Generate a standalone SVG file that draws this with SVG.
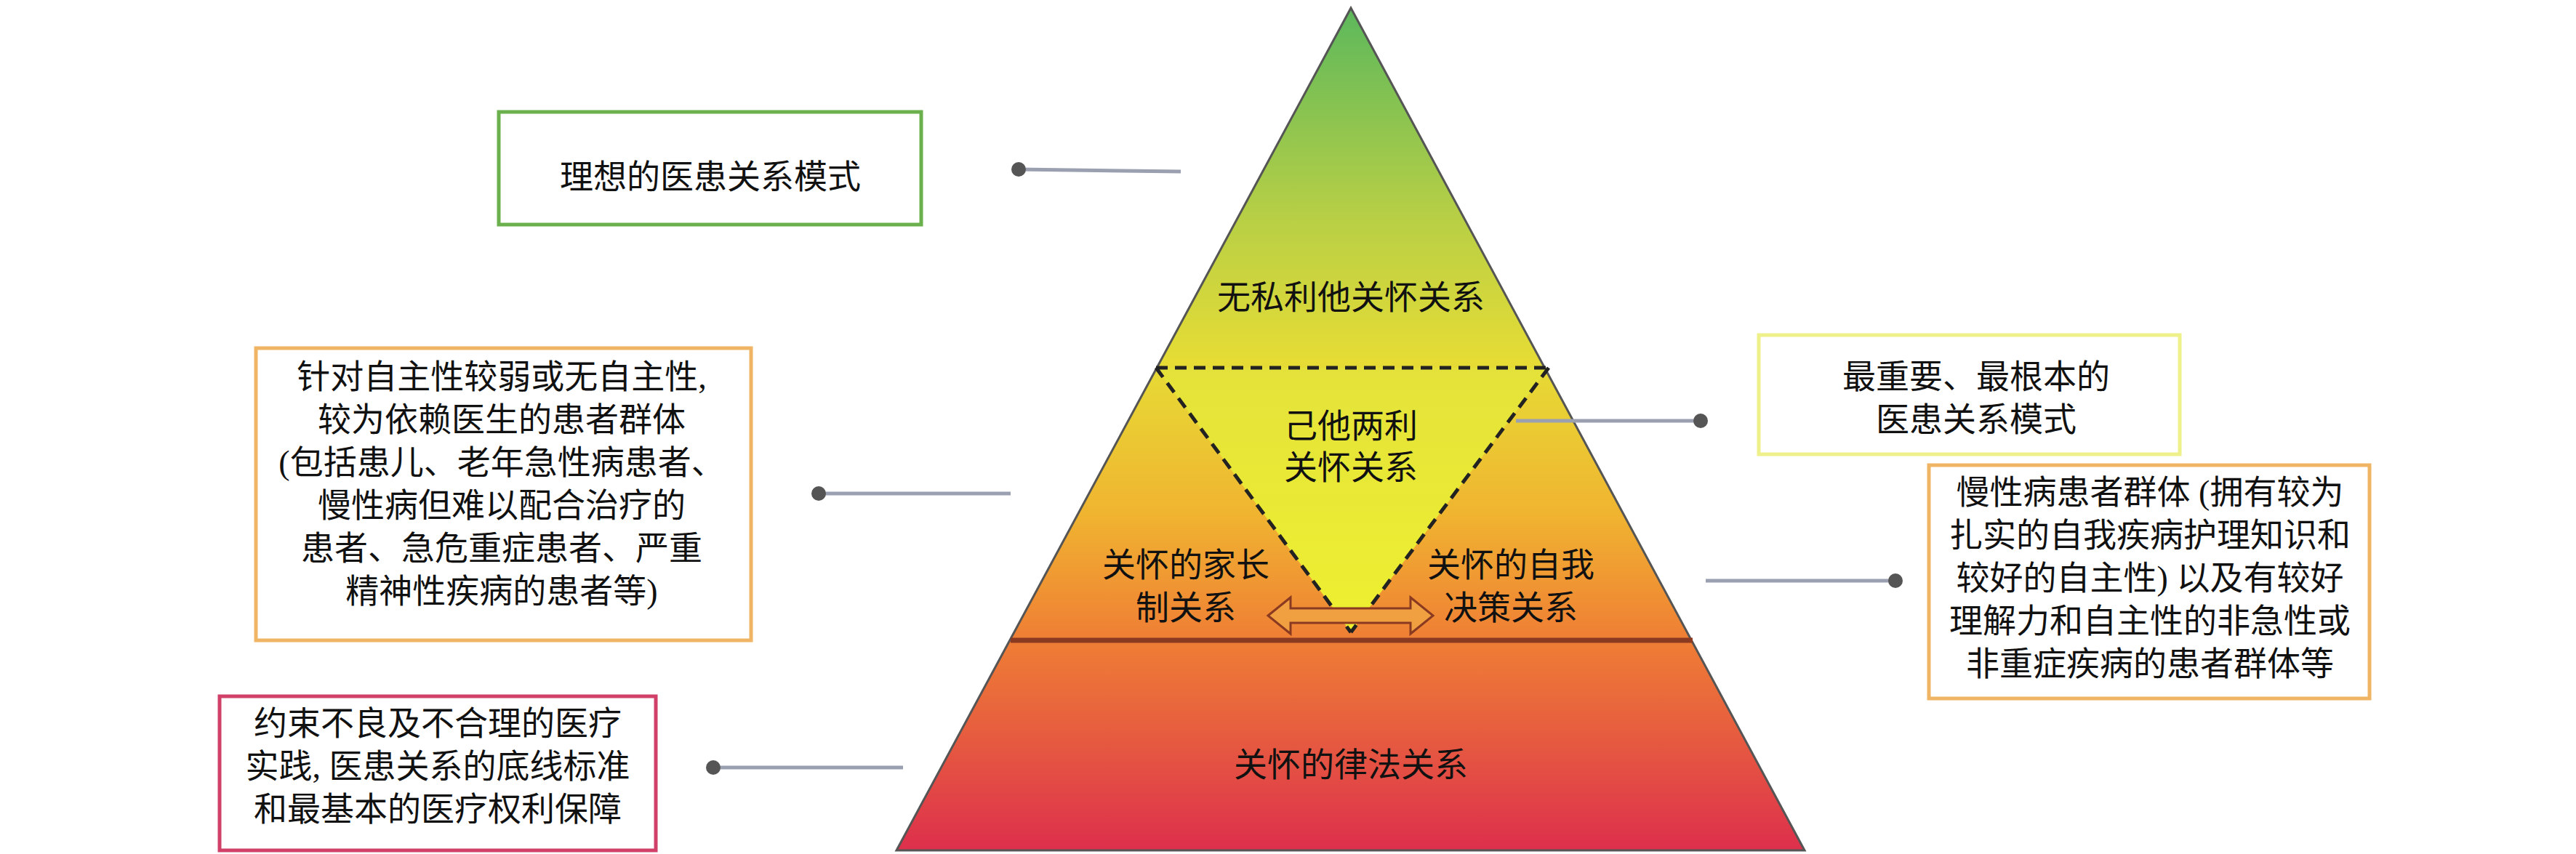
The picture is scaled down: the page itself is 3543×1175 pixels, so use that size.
<svg xmlns="http://www.w3.org/2000/svg" width="3543" height="1175" viewBox="0 0 3543 1175">
<style>
text{font-family:"Liberation Serif","Noto Sans CJK SC",serif;font-size:46px;fill:#111;text-anchor:middle;dominant-baseline:central}
.box{fill:#fff;stroke-width:5}
.ln{stroke:#9aa0b0;stroke-width:5;fill:none}
.dot{fill:#555}
.dash{stroke:#222;stroke-width:5;stroke-dasharray:16 10;fill:none}
</style>
<defs>
<linearGradient id="pg" gradientUnits="userSpaceOnUse" x1="0" y1="11" x2="0" y2="1170">
<stop offset="0" stop-color="#5cb85c"/>
<stop offset="0.25" stop-color="#b8cf45"/>
<stop offset="0.42" stop-color="#e6dc35"/>
<stop offset="0.6" stop-color="#f0b430"/>
<stop offset="0.75" stop-color="#ef7e35"/>
<stop offset="0.87" stop-color="#e65a40"/>
<stop offset="1" stop-color="#dd2f4c"/>
</linearGradient>
<linearGradient id="ig" gradientUnits="userSpaceOnUse" x1="0" y1="506" x2="0" y2="870">
<stop offset="0" stop-color="#e4e23a"/>
<stop offset="1" stop-color="#eef030"/>
</linearGradient>
</defs>
<g id="pyramid">
<polygon points="1858,11 2482,1170 1233,1170" fill="url(#pg)" stroke="#555" stroke-width="3"/>
<polygon points="1590,506 2130,506 1858,870" fill="url(#ig)"/>
<line x1="1590" y1="506" x2="2130" y2="506" class="dash"/>
<line x1="1590" y1="506" x2="1858" y2="870" class="dash"/>
<line x1="2130" y1="506" x2="1858" y2="870" class="dash"/>
<line x1="1390" y1="881" x2="2328" y2="881" stroke="#8a3a20" stroke-width="7"/>
<polygon points="1744,847 1775,822 1775,837 1940,837 1940,822 1971,847 1940,872 1940,857 1775,857 1775,872" fill="#f0a040" stroke="#8a3a20" stroke-width="3"/>
<text x="1858" y="409">无私利他关怀关系</text>
<text x="1858" y="586">己他两利</text>
<text x="1858" y="643">关怀关系</text>
<text x="1631" y="777">关怀的家长</text>
<text x="1631" y="836">制关系</text>
<text x="2078" y="777">关怀的自我</text>
<text x="2078" y="836">决策关系</text>
<text x="1858" y="1052">关怀的律法关系</text>
</g>
<g id="box-ideal">
<rect x="686" y="154" width="581" height="155" class="box" stroke="#6ab04c"/>
<text x="977" y="243">理想的医患关系模式</text>
</g>
<g id="box-left">
<rect x="352" y="479" width="681" height="402" class="box" stroke="#efb565"/>
<text x="690" y="518">针对自主性较弱或无自主性,</text>
<text x="690" y="577">较为依赖医生的患者群体</text>
<text x="690" y="636">(包括患儿、老年急性病患者、</text>
<text x="690" y="695">慢性病但难以配合治疗的</text>
<text x="690" y="754">患者、急危重症患者、严重</text>
<text x="690" y="813">精神性疾病的患者等)</text>
</g>
<g id="box-important">
<rect x="2419" y="461" width="579" height="164" class="box" stroke="#eef08a" stroke-width="8"/>
<text x="2718" y="518">最重要、最根本的</text>
<text x="2718" y="577">医患关系模式</text>
</g>
<g id="box-chronic">
<rect x="2653" y="640" width="606" height="321" class="box" stroke="#efb565"/>
<text x="2957" y="677">慢性病患者群体 (拥有较为</text>
<text x="2957" y="736">扎实的自我疾病护理知识和</text>
<text x="2957" y="795">较好的自主性) 以及有较好</text>
<text x="2957" y="854">理解力和自主性的非急性或</text>
<text x="2957" y="913">非重症疾病的患者群体等</text>
</g>
<g id="box-law">
<rect x="302" y="958" width="600" height="212" class="box" stroke="#d04068"/>
<text x="602" y="995">约束不良及不合理的医疗</text>
<text x="602" y="1054">实践, 医患关系的底线标准</text>
<text x="602" y="1113">和最基本的医疗权利保障</text>
</g>
<g id="connectors">
<line x1="1401" y1="233" x2="1624" y2="236" class="ln"/><circle cx="1401" cy="233" r="10" class="dot"/>
<line x1="1126" y1="679" x2="1390" y2="679" class="ln"/><circle cx="1126" cy="679" r="10" class="dot"/>
<line x1="2085" y1="579" x2="2339" y2="579" class="ln"/><circle cx="2339" cy="579" r="10" class="dot"/>
<line x1="2346" y1="799" x2="2607" y2="799" class="ln"/><circle cx="2607" cy="799" r="10" class="dot"/>
<line x1="981" y1="1056" x2="1242" y2="1056" class="ln"/><circle cx="981" cy="1056" r="10" class="dot"/>
</g>
</svg>
